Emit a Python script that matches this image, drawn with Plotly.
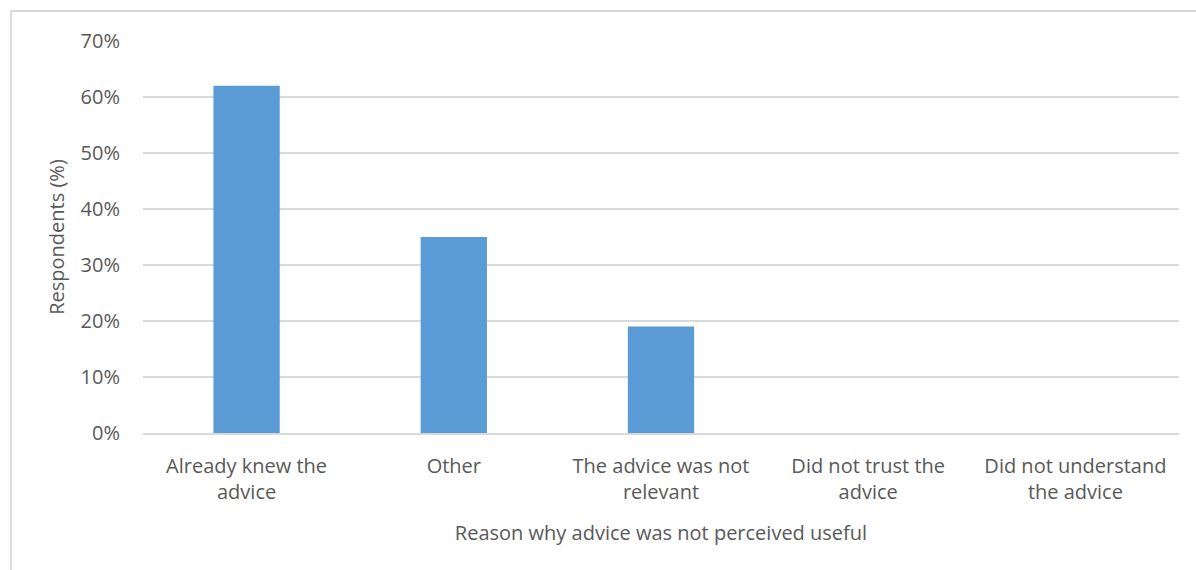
import plotly.graph_objects as go

categories = [
    "Already knew the<br>advice",
    "Other",
    "The advice was not<br>relevant",
    "Did not trust the<br>advice",
    "Did not understand<br>the advice",
]
respondents_pct = [62, 35, 19, 0, 0]
y_ticks = [0, 10, 20, 30, 40, 50, 60, 70]

TEXT = "#595959"
GRID = "#D9D9D9"
BAR = "#5B9BD5"
FONT = "Open Sans"
SIZE = 20

fig = go.Figure(
    go.Bar(
        x=categories,
        y=respondents_pct,
        marker=dict(color=BAR, line=dict(width=0)),
        hoverinfo="x+y",
    )
)

fig.update_layout(
    width=1196,
    height=570,
    margin=dict(l=143, r=17, t=41, b=137),
    paper_bgcolor="white",
    plot_bgcolor="white",
    bargap=0.68,
    showlegend=False,
    font=dict(family=FONT, size=SIZE, color=TEXT),
    shapes=[
        dict(
            type="rect", xref="paper", yref="paper",
            x0=-0.1273, x1=1.2, y0=-0.5, y1=1.0767,
            line=dict(color=GRID, width=2), fillcolor="rgba(0,0,0,0)",
            layer="below",
        )
    ],
)

fig.update_yaxes(
    range=[0, 70],
    tickvals=y_ticks,
    ticktext=[f"{v}%" for v in y_ticks],
    showgrid=True,
    gridcolor=GRID,
    gridwidth=1.5,
    zeroline=False,
    showline=False,
    ticks="",
    ticklabelstandoff=22,
    tickfont=dict(size=SIZE, color=TEXT),
    title=dict(text="Respondents (%)", font=dict(size=SIZE, color=TEXT), standoff=10),
)

fig.update_xaxes(
    showgrid=False,
    showline=True,
    linecolor=GRID,
    linewidth=1.5,
    ticks="",
    ticklabelstandoff=14,
    tickfont=dict(size=SIZE, color=TEXT),
    title=dict(
        text="Reason why advice was not perceived useful",
        font=dict(size=SIZE, color=TEXT),
        standoff=22,
    ),
)

fig.write_html("out.html")
